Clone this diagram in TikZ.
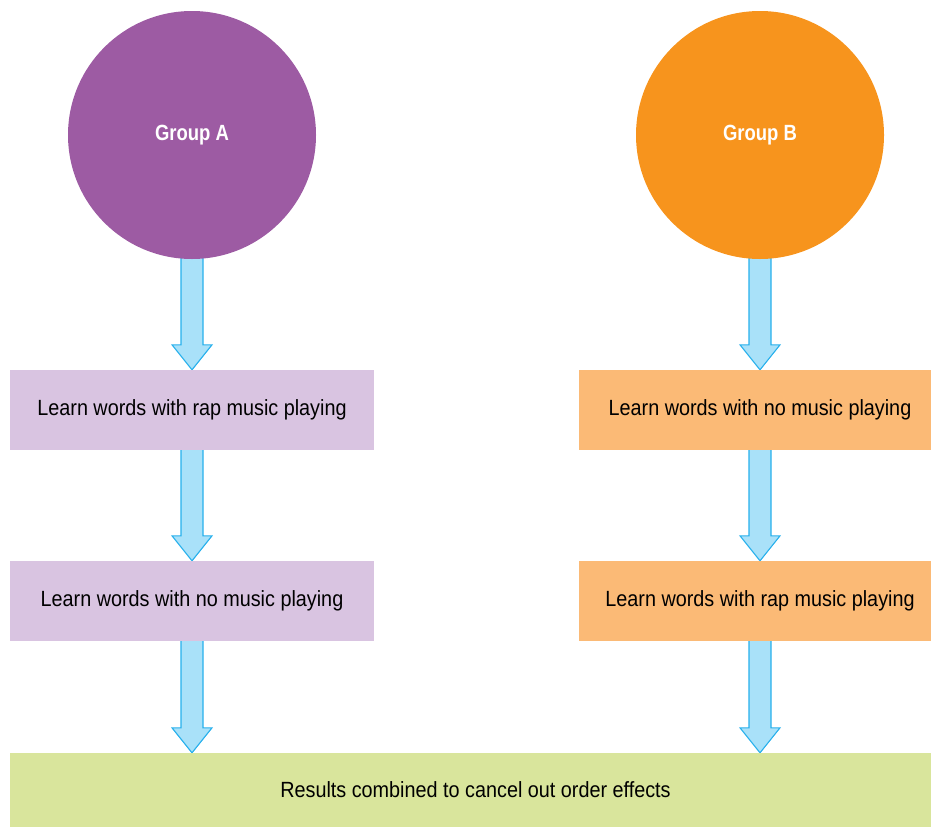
\documentclass[tikz,border=0pt]{standalone}
\usepackage{fontspec}
\setmainfont[FakeStretch=0.9]{Liberation Sans}
\newfontfamily\groupfont[FakeStretch=0.84]{Liberation Sans}
\usetikzlibrary{calc,backgrounds}
\definecolor{grpA}{HTML}{9D5BA3}
\definecolor{grpB}{HTML}{F7941D}
\definecolor{boxA}{HTML}{D9C4E1}
\definecolor{boxB}{HTML}{FBBA76}
\definecolor{resbox}{HTML}{D9E59C}
\definecolor{arrfill}{HTML}{A9E1F9}
\definecolor{arredge}{HTML}{27B0EC}
\tikzset{
  group/.style={circle, minimum size=248pt, inner sep=0pt, text=white,
    font=\groupfont\fontsize{22}{25}\selectfont\bfseries},
  stepbox/.style={rectangle, minimum height=80pt, inner sep=0pt,
    font=\fontsize{22}{25}\selectfont},
  fatarr/.style={fill=arrfill, draw=arredge, line width=1.1pt, line join=miter}
}
% block arrow from the bottom of #1 to the point #2
\newcommand\blockarrow[2]{%
  \draw[fatarr] let \p1=(#1), \p2=(#2) in
    (\x1-11pt,\y1+6pt) -- (\x1-11pt,\y2+25pt) -- (\x1-20pt,\y2+25pt) --
    (\x1,\y2) -- (\x1+20pt,\y2+25pt) -- (\x1+11pt,\y2+25pt) --
    (\x1+11pt,\y1+6pt);}
\begin{document}
\begin{tikzpicture}[x=1pt,y=-1pt]
\useasboundingbox (0,0) rectangle (931,827);
\node[group, fill=grpA] (ga) at (192,135) {Group A};
\node[group, fill=grpB] (gb) at (760,135) {Group B};
\node[stepbox, fill=boxA, minimum width=364pt] (a1) at (192,410) {Learn words with rap music playing};
\node[stepbox, fill=boxA, minimum width=364pt] (a2) at (192,601) {Learn words with no music playing};
\node[stepbox, fill=boxB, minimum width=352pt] (b1) at (755,410) {\hspace{10pt}Learn words with no music playing};
\node[stepbox, fill=boxB, minimum width=352pt] (b2) at (755,601) {\hspace{10pt}Learn words with rap music playing};
\node[stepbox, fill=resbox, minimum width=921pt, minimum height=74pt] (res) at (470.5,790)
  {\hspace{10pt}Results combined to cancel out order effects};
% arrow end points on the right-hand column
\coordinate (gbs) at (gb.south);
\coordinate (b1n) at ($(b1.north)+(5pt,0)$);
\coordinate (b1s) at ($(b1.south)+(5pt,0)$);
\coordinate (b2n) at ($(b2.north)+(5pt,0)$);
\coordinate (b2s) at ($(b2.south)+(5pt,0)$);
\coordinate (ra) at (res.north -| a2.south);
\coordinate (rb) at (res.north -| b2s);
\begin{scope}[on background layer]
  \blockarrow{ga.south}{a1.north}
  \blockarrow{a1.south}{a2.north}
  \blockarrow{a2.south}{ra}
  \blockarrow{gbs}{b1n}
  \blockarrow{b1s}{b2n}
  \blockarrow{b2s}{rb}
\end{scope}
\end{tikzpicture}
\end{document}
